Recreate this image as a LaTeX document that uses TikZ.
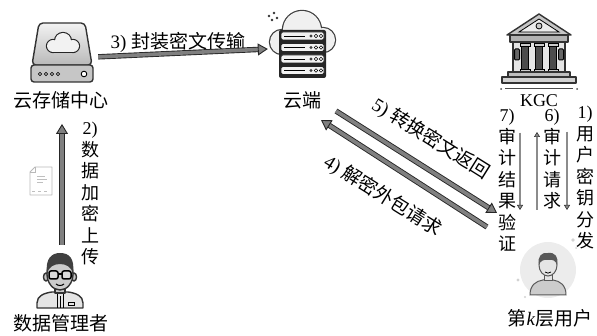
\documentclass[tikz,border=0pt]{standalone}
\usepackage{fontspec}
\setmainfont{Liberation Serif}
\newfontfamily\cjk{Noto Sans CJK SC}
\usetikzlibrary{arrows.meta}

\tikzset{
  lbl/.style={inner sep=1pt, font=\fontsize{19}{22}\selectfont},
  vlbl/.style={inner sep=1pt, align=center, anchor=north, font=\fontsize{18}{21.5}\selectfont\cjk},
  bigarrow/.style={draw=black!85, line width=0.9pt, double=black!50, double distance=3.6pt,
    -{Triangle[length=10pt, width=12pt, fill=black!50]}},
  thinarrow/.style={draw=black!80, line width=0.6pt, double=black!45, double distance=1.7pt,
    -{Triangle[length=5pt, width=6pt, fill=black!45]}},
  outline/.style={draw=black!80, line width=1.4pt, line join=round},
}

\begin{document}
\begin{tikzpicture}[x=1pt, y=-1pt]
  \useasboundingbox (0,0) rectangle (597,336);

  % places of the icons
  \node[minimum width=66pt, minimum height=62pt, inner sep=0pt] (store) at (62,52) {};
  \node[minimum width=68pt, minimum height=68pt, inner sep=0pt] (cloud) at (302,44) {};
  \node[minimum width=76pt, minimum height=72pt, inner sep=0pt] (kgc) at (539,52) {};
  \node[minimum width=50pt, minimum height=58pt, inner sep=0pt] (mgr) at (60,282) {};
  \node[circle, minimum size=56pt, inner sep=0pt] (user) at (548,270) {};

  % hard drive
  \begin{scope}[shift={(store.center)}]
    \draw[outline, rounded corners=4pt, top color=gray!10, bottom color=gray!55]
      (-30,13) -- (-23,-29) -- (23,-29) -- (30,13) -- cycle;
    \draw[outline, rounded corners=3pt, fill=gray!45] (-31,13) rectangle (31,30);
    \foreach \i in {0,...,3} {
      \draw[fill=white, line width=0.7pt] (-22+\i*6,22) circle (1.6);
    }
    \draw[fill=white, line width=0.9pt] (22,22) circle (2.8);
    \foreach \cx/\cy/\r in {-9/-6/6, 1/-11/8, 11/-6/6} {
      \draw[line width=2.2pt, black!85] (\cx,\cy) circle (\r);
    }
    \draw[line width=2.2pt, black!85] (-9,-6) rectangle (11,0);
    \foreach \cx/\cy/\r in {-9/-6/6, 1/-11/8, 11/-6/6} {
      \fill[gray!10] (\cx,\cy) circle (\r);
    }
    \fill[gray!10] (-9,-6) rectangle (11,0);
  \end{scope}

  % cloud with servers
  \begin{scope}[shift={(cloud.center)}]
    \foreach \cx/\cy/\r in {-20/-2/12, 0/-14/19, 21/-4/12} {
      \draw[line width=2.4pt, black!75] (\cx,\cy) circle (\r);
    }
    \draw[line width=2.4pt, black!75] (-20,-2) rectangle (21,10);
    \foreach \cx/\cy/\r in {-20/-2/12, 0/-14/19, 21/-4/12} {
      \fill[gray!12] (\cx,\cy) circle (\r);
    }
    \fill[gray!12] (-20,-2) rectangle (21,10);
    \foreach \sx/\sy in {-33/-28, -28/-31, -30/-24, -25/-26} {
      \fill[black!80] (\sx,\sy) circle (1.3);
    }
    \fill[black!85, rounded corners=2pt] (-23,-14) rectangle (24,34);
    \foreach \i in {0,...,3} {
      \draw[fill=gray!10, draw=black!85, line width=0.8pt, rounded corners=1.5pt]
        (-21,-12+11.5*\i) rectangle (22,-4+11.5*\i);
      \draw[line width=0.8pt] (-18,-8+11.5*\i) -- (3,-8+11.5*\i);
      \fill[black!75] (9,-8+11.5*\i) circle (1.7);
      \draw[fill=white, line width=0.6pt] (14,-8+11.5*\i) circle (1.7);
      \draw[fill=white, line width=0.6pt] (19,-8+11.5*\i) circle (1.7);
    }
  \end{scope}

  % building of the KGC
  \begin{scope}[shift={(kgc.center)}]
    \draw[outline, fill=gray!45] (-32,-17) -- (0,-38) -- (32,-17) -- cycle;
    \draw[line width=0.8pt, fill=gray!15] (-20,-20) -- (0,-33) -- (20,-20) -- cycle;
    \draw[line width=0.8pt, fill=gray!40] (0,-26) circle (3);
    \draw[outline, fill=gray!60] (-29,-17) rectangle (29,-10);
    \draw[outline, fill=gray!20] (-26,-10) rectangle (26,20);
    \foreach \cx in {-14,0,14} {
      \draw[line width=1pt, fill=black!70] (\cx-3.5,-7) rectangle (\cx+3.5,18);
      \draw[line width=0.8pt, fill=gray!40] (\cx-5,-9) rectangle (\cx+5,-6);
      \draw[line width=0.8pt, fill=gray!40] (\cx-5,17) rectangle (\cx+5,20);
    }
    \foreach \cx in {-22,22} {
      \draw[line width=1pt, fill=black!60, rounded corners=1pt] (\cx-2.5,-3) rectangle (\cx+2.5,8);
    }
    \draw[outline, fill=gray!50] (-31,20) rectangle (31,25);
    \draw[outline, fill=gray!35] (-37,25) rectangle (37,31);
    \draw[line width=1pt, black!70] (-34,37) -- (34,37);
    \fill[black!70] (-38,37) circle (1) (38,37) circle (1);
  \end{scope}

  % data manager
  \begin{scope}[shift={(mgr.center)}]
    \draw[outline, fill=gray!20] (-23,26) -- (-23,21) .. controls (-23,14) and (-16,11) .. (-8,10)
      -- (8,10) .. controls (16,11) and (23,14) .. (23,21) -- (23,26) -- cycle;
    \draw[line width=0.8pt] (-3,12) -- (-3,26) (3,12) -- (3,26) (0,14) -- (0,26);
    \draw[line width=0.8pt] (8,20) rectangle (14,23);
    \draw[outline, fill=gray!45] (-5,4) rectangle (5,11);
    \draw[outline, fill=gray!45] (-14,-5) ellipse [x radius=2.5, y radius=4];
    \draw[outline, fill=gray!45] (14,-5) ellipse [x radius=2.5, y radius=4];
    \draw[outline, fill=gray!40] (0,-8) ellipse [x radius=13, y radius=16];
    \fill[black!75] (-13,-8) .. controls (-15,-24) and (-8,-29) .. (0,-29)
      .. controls (9,-29) and (15,-24) .. (13,-8)
      .. controls (12,-15) and (6,-18) .. (0,-18)
      .. controls (-6,-18) and (-12,-15) .. (-13,-8) -- cycle;
    \draw[line width=1.5pt, rounded corners=2pt, fill=gray!30] (-11,-11) rectangle (-2,-3);
    \draw[line width=1.5pt, rounded corners=2pt, fill=gray!30] (2,-11) rectangle (11,-3);
    \draw[line width=1.2pt] (-2,-8) -- (2,-8);
    \draw[line width=1pt] (-4,2) .. controls (-2,4) and (2,4) .. (4,2);
  \end{scope}

  % user of layer k
  \begin{scope}[shift={(user.center)}]
    \fill[gray!15] (0,0) circle (28);
    \foreach \sx/\sy/\r in {25/-30/1.8, -30/10/1.6, -23/27/1.2, 28/-22/1} {
      \fill[gray!35] (\sx,\sy) circle (\r);
    }
    \draw[draw=black!65, line width=1pt, fill=gray!40] (-18,25) .. controls (-18,15) and (-12,11) .. (-5,10)
      -- (5,10) .. controls (12,11) and (18,15) .. (18,25) -- cycle;
    \draw[draw=black!65, line width=1pt, fill=gray!20] (-4,3) rectangle (4,11);
    \draw[draw=black!65, line width=1pt, fill=gray!20] (0,-5) ellipse [x radius=9, y radius=11];
    \fill[black!65] (-9,-5) .. controls (-11,-14) and (-6,-18) .. (0,-17)
      .. controls (7,-18) and (11,-13) .. (9,-5)
      .. controls (8,-9) and (5,-11) .. (0,-10)
      .. controls (-4,-11) and (-8,-9) .. (-9,-5) -- cycle;
    \draw[line width=0.8pt] (-3,2) .. controls (-1,3.5) and (1,3.5) .. (3,2);
  \end{scope}

  % small document
  \begin{scope}[shift={(41,181)}]
    \draw[gray!55, line width=0.9pt, fill=white, line join=round]
      (-11,-9) -- (-6,-14) -- (11,-14) -- (11,14) -- (-11,14) -- cycle;
    \draw[gray!55, line width=0.7pt] (-11,-9) -- (-6,-9) -- (-6,-14);
    \foreach \ly/\lx in {-5/4, -2/6, 1/2} {
      \draw[gray!50, line width=0.7pt] (-4,\ly) -- (\lx,\ly);
    }
    \draw[gray!50, line width=0.7pt, dashed] (-9,10) -- (9,10);
  \end{scope}

  % labels
  \node[lbl] (storelbl) at (61,100) {\cjk 云存储中心};
  \node[lbl] (cloudlbl) at (302,100) {\cjk 云端};
  \node[lbl, font=\fontsize{18}{20}\selectfont] (kgclbl) at (539,101) {KGC};
  \node[lbl] (mgrlbl) at (61,323) {\cjk 数据管理者};
  \node[lbl] (userlbl) at (550,318) {{\cjk 第}\textit{k}{\cjk 层用户}};

  \node[lbl] (lbl3) at (178,42) {3) {\cjk 封装密文传输}};
  \node[lbl, rotate=-32] (lbl5) at (431,139) {5) {\cjk 转换密文返回}};
  \node[lbl, rotate=-32] (lbl4) at (383,196) {4) {\cjk 解密外包请求}};
  \node[vlbl] (lbl2) at (90,121) {\rmfamily 2)\\数\\据\\加\\密\\上\\传};
  \node[vlbl] (lbl7) at (507,108) {\rmfamily 7)\\审\\计\\结\\果\\验\\证};
  \node[vlbl] (lbl6) at (552,108) {\rmfamily 6)\\审\\计\\请\\求};
  \node[vlbl] (lbl1) at (585,105) {\rmfamily 1)\\用\\户\\密\\钥\\分\\发};

  % arrow ends
  \coordinate (r5s) at (336,111);
  \coordinate (r5e) at (497,213);
  \coordinate (r4s) at (487,227);
  \coordinate (r4e) at (321,120);
  \coordinate (a7s) at (520,133);
  \coordinate (a7e) at (520,210);
  \coordinate (a6s) at (537,210);
  \coordinate (a6e) at (537,132);
  \coordinate (a1s) at (567,132);
  \coordinate (a1e) at (567,210);

  % arrows
  \draw[bigarrow, shorten <=3pt] ([yshift=-5pt]store.east) -- ([yshift=-5pt]cloud.west);
  \draw[bigarrow, shorten <=8pt, shorten >=14pt] ([xshift=2pt]mgr.north) -- ([xshift=1pt]storelbl.south);
  \draw[bigarrow] (r5s) -- (r5e);
  \draw[bigarrow] (r4s) -- (r4e);
  \draw[thinarrow] (a7s) -- (a7e);
  \draw[thinarrow] (a6s) -- (a6e);
  \draw[thinarrow] (a1s) -- (a1e);
\end{tikzpicture}
\end{document}
